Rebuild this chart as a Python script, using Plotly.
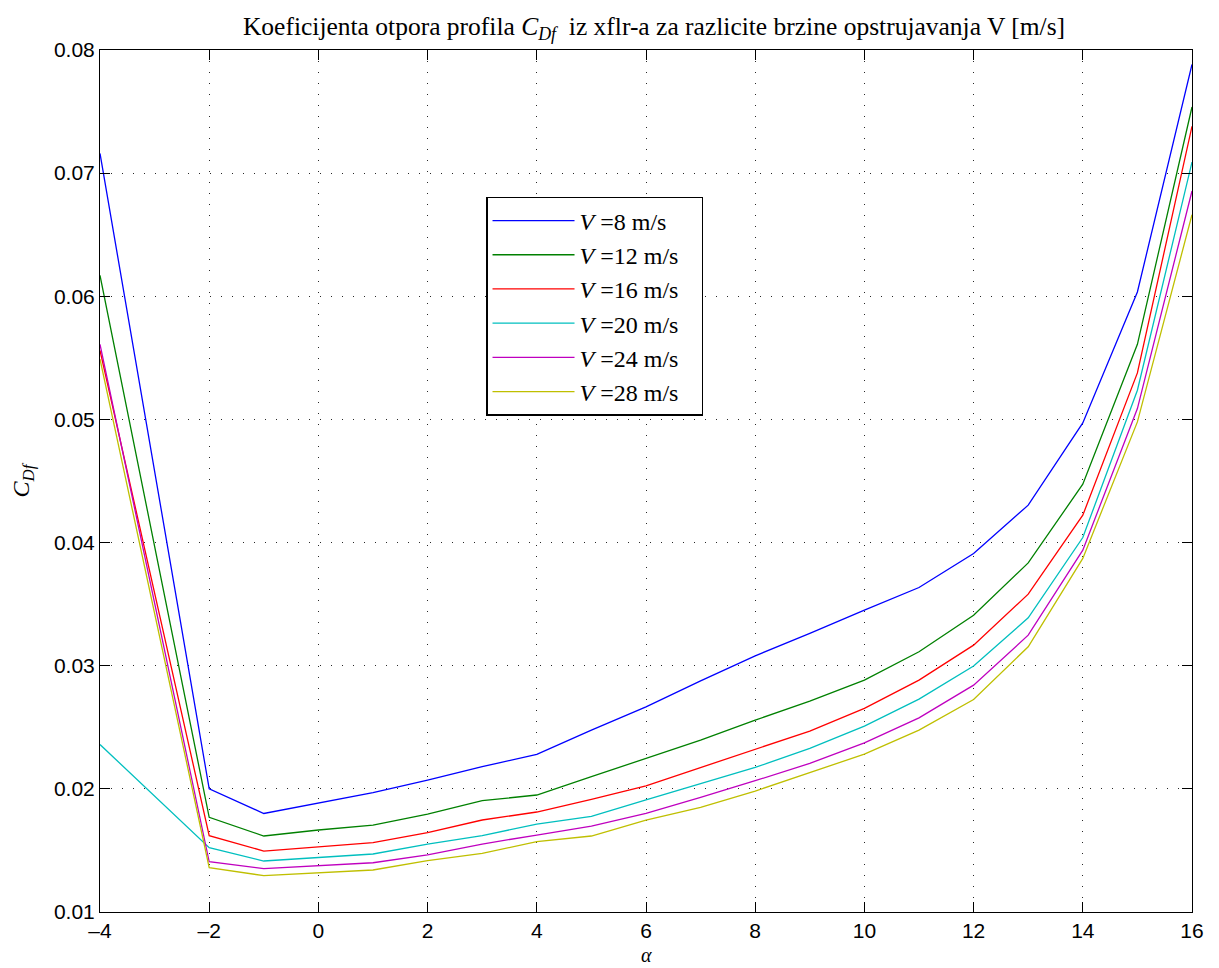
import plotly.graph_objects as go

alpha = [-4, -2, -1, 0, 1, 2, 3, 4, 5, 6, 7, 8, 9, 10, 11, 12, 13, 14, 15, 16]

cd_v8 = [0.0716, 0.0200, 0.0180, 0.01887, 0.0197, 0.02071, 0.02180, 0.0228, 0.02477, 0.02666,
         0.02877, 0.03080, 0.03262, 0.03451, 0.03635, 0.03911, 0.04304, 0.04972, 0.06035, 0.07883]
cd_v12 = [0.0617, 0.01769, 0.01617, 0.01666, 0.01706, 0.01795, 0.01904, 0.0195, 0.02099, 0.02247,
          0.02396, 0.02558, 0.02713, 0.02883, 0.03113, 0.0341, 0.03835, 0.04474, 0.0561, 0.07537]
cd_v16 = [0.0556, 0.0162, 0.01495, 0.0153, 0.01563, 0.01644, 0.01747, 0.01812, 0.01915, 0.02025,
          0.02174, 0.0232, 0.02469, 0.02653, 0.02883, 0.03167, 0.03581, 0.04222, 0.05378, 0.0738]
cd_v20 = [0.0236, 0.01522, 0.01414, 0.01444, 0.01471, 0.01552, 0.0162, 0.01714, 0.01777, 0.0191,
          0.0204, 0.02174, 0.02328, 0.0251, 0.02729, 0.02997, 0.03389, 0.04041, 0.05237, 0.0709]
cd_v24 = [0.0561, 0.01408, 0.01352, 0.01376, 0.0140, 0.01463, 0.01552, 0.01625, 0.01698, 0.01801,
          0.0193, 0.02066, 0.02207, 0.02374, 0.02577, 0.02842, 0.03248, 0.03938, 0.05088, 0.06855]
cd_v28 = [0.0549, 0.0136, 0.01295, 0.01319, 0.01341, 0.01417, 0.01476, 0.01571, 0.01617, 0.01747,
          0.0185, 0.01982, 0.02131, 0.02282, 0.02477, 0.02726, 0.03154, 0.03871, 0.0498, 0.06663]

series_labels = ["<i>V</i> =8 m/s", "<i>V</i> =12 m/s", "<i>V</i> =16 m/s",
                 "<i>V</i> =20 m/s", "<i>V</i> =24 m/s", "<i>V</i> =28 m/s"]
series_values = [cd_v8, cd_v12, cd_v16, cd_v20, cd_v24, cd_v28]
colors = ["rgb(0,0,255)", "rgb(0,128,0)", "rgb(255,0,0)",
          "rgb(0,191,191)", "rgb(191,0,191)", "rgb(191,191,0)"]

xticks = [-4, -2, 0, 2, 4, 6, 8, 10, 12, 14, 16]
yticks = [0.01, 0.02, 0.03, 0.04, 0.05, 0.06, 0.07, 0.08]

fig = go.Figure()
for lab, vals, col in zip(series_labels, series_values, colors):
    fig.add_trace(go.Scatter(x=alpha, y=vals, mode="lines", name=lab + "\u00a0\u00a0\u00a0",
                             line=dict(color=col, width=1.3)))

serif = "Liberation Serif"
sans = "Liberation Sans"

# page body has an 8px margin; plot area should span x 100..1192, y 50..912 in the screenshot
fig.update_layout(
    width=1203, height=960,
    paper_bgcolor="white", plot_bgcolor="white",
    margin=dict(l=92, r=19, t=42, b=56, autoexpand=False),
    title=dict(text="Koeficijenta otpora profila <i>C<sub>Df</sub></i>  iz xflr-a za razlicite brzine opstrujavanja V [m/s]",
               x=0.537, xanchor="center", y=0.9905, yanchor="top",
               font=dict(family=serif, size=25.5, color="black")),
    legend=dict(x=0.3535, y=0.8295, xanchor="left", yanchor="top",
                bgcolor="white", bordercolor="black", borderwidth=1.5,
                font=dict(family=serif, size=24, color="black"),
                tracegroupgap=0, itemwidth=82),
    showlegend=True,
    annotations=[dict(text="<i>α</i>", xref="paper", yref="paper", x=0.5, y=-0.0499,
                      xanchor="center", yanchor="middle", showarrow=False,
                      font=dict(family=serif, size=20, color="black"))],
)

grid_dash = "1px,10px"
fig.update_xaxes(
    range=[-4, 16], tickvals=xticks, ticktext=[str(t).replace("-", "\u2013") for t in xticks],
    showgrid=True, gridcolor="rgb(40,40,40)", griddash=grid_dash, gridwidth=1,
    showline=True, linecolor="black", linewidth=1, mirror="ticks",
    ticks="inside", ticklen=10, tickcolor="black",
    tickfont=dict(family=sans, size=21, color="black"),
    zeroline=False, automargin=False,
)
fig.update_yaxes(
    range=[0.01, 0.08], tickvals=yticks, ticktext=[f"{t:.2f}" for t in yticks],
    showgrid=True, gridcolor="rgb(40,40,40)", griddash=grid_dash, gridwidth=1,
    showline=True, linecolor="black", linewidth=1, mirror="ticks",
    ticks="inside", ticklen=10, tickcolor="black",
    tickfont=dict(family=sans, size=21, color="black"),
    zeroline=False, automargin=False,
    title=dict(text="<i>C<sub>Df</sub></i>", font=dict(family=serif, size=24, color="black"), standoff=20),
)

fig.write_html("out.html")
